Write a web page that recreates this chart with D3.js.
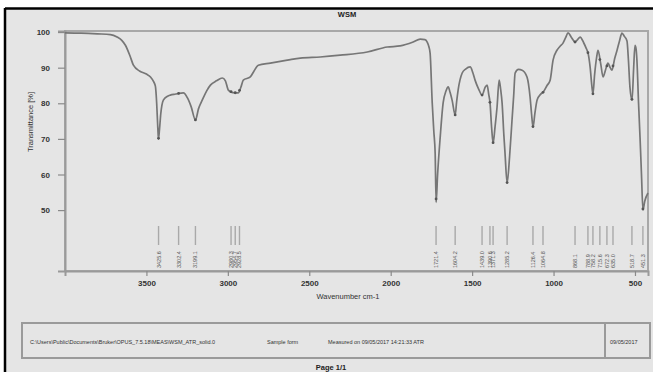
<!DOCTYPE html>
<html>
<head>
<meta charset="utf-8">
<script src="https://cdn.jsdelivr.net/npm/d3@7"></script>
<style>
  body { margin: 0; background: #fff; }
  svg { display: block; font-family: "Liberation Sans", Arial, sans-serif; }
</style>
</head>
<body>
<div id="chart"></div>
<script>
// spectrum
const wavenumbers = [4000, 3900, 3800, 3721, 3680, 3650, 3629, 3600, 3580, 3540, 3500, 3475, 3455, 3445, 3437, 3430, 3426, 3420, 3412, 3396,
  3370, 3353, 3320, 3300, 3273, 3248, 3225, 3199, 3180, 3156, 3130, 3107, 3070, 3034, 3015, 2997, 2970, 2936, 2920, 2905,
  2862, 2840, 2813, 2739, 2635, 2555, 2433, 2310, 2144, 2021, 1942, 1862, 1819, 1790, 1776, 1765, 1758, 1745, 1735, 1727,
  1721, 1712, 1696, 1678, 1660, 1647, 1635, 1623, 1604, 1595, 1586, 1561, 1540, 1512, 1495, 1482, 1460, 1439, 1420, 1408,
  1398, 1390, 1380, 1371, 1360, 1347, 1334, 1325, 1316, 1305, 1298, 1285, 1270, 1255, 1245, 1236, 1215, 1193, 1163, 1144,
  1135, 1126, 1115, 1101, 1080, 1064, 1040, 1021, 1003, 979, 960, 942, 925, 911, 890, 868, 850, 837, 815, 800,
  788, 775, 765, 758, 748, 735, 727, 710, 696, 680, 666, 652, 641, 625, 610, 595, 580, 565, 549, 540,
  531, 518, 508, 500, 494, 488, 478, 469, 460, 451, 440, 420];
const transmittance = [99.8, 99.7, 99.5, 99.3, 98.6, 97.6, 96.3, 93.2, 90.7, 89.0, 88.2, 87.4, 86.0, 84.8, 80.0, 73.0, 70.0, 72.5, 77.0, 80.9,
  82.0, 82.3, 82.6, 82.8, 82.9, 81.5, 79.0, 75.3, 78.5, 81.0, 83.5, 85.1, 86.3, 87.1, 86.3, 83.7, 83.0, 82.9, 84.5, 86.5,
  87.4, 89.0, 90.7, 91.3, 92.1, 92.7, 93.0, 93.5, 94.4, 95.8, 96.1, 97.2, 98.0, 97.9, 97.2, 95.8, 94.1, 80.1, 72.0, 66.0,
  52.2, 60.0, 70.5, 80.1, 83.5, 84.6, 83.0, 80.9, 76.7, 80.5, 83.7, 88.5, 89.6, 90.2, 88.5, 86.5, 84.0, 82.3, 84.5, 85.1,
  82.5, 80.1, 73.0, 68.8, 73.0, 78.9, 86.5, 84.0, 80.1, 71.0, 66.0, 57.6, 65.0, 75.3, 82.0, 88.5, 89.5, 89.3, 87.4, 81.7,
  77.0, 73.3, 77.0, 80.9, 82.5, 83.1, 85.0, 86.5, 92.1, 94.9, 96.0, 96.9, 98.5, 99.8, 98.5, 97.2, 98.0, 98.6, 97.0, 95.5,
  94.1, 90.0, 85.0, 82.6, 88.0, 93.0, 94.9, 91.0, 87.4, 89.5, 91.3, 90.0, 89.3, 92.5, 94.9, 97.5, 99.7, 98.8, 97.5, 92.0,
  84.6, 80.9, 90.0, 96.3, 95.5, 92.1, 80.0, 70.5, 60.0, 50.0, 52.5, 54.8];

const peaks = [3425.6, 3302.4, 3199.1, 2980.3, 2954.7, 2928.5, 1721.4, 1604.2, 1439.0, 1390.6, 1371.3, 1285.2,
  1126.4, 1064.8, 868.1, 788.9, 758.2, 715.6, 672.3, 635.0, 518.7, 451.3];

const xTicks = [3500, 3000, 2500, 2000, 1500, 1000, 500];
const yTicks = [50, 60, 70, 80, 90, 100];

const title = "WSM";
const xTitle = "Wavenumber cm-1";
const yTitle = "Transmittance [%]";
const footer = ["C:\\Users\\Public\\Documents\\Bruker\\OPUS_7.5.18\\MEAS\\WSM_ATR_solid.0", "Sample form",
  "Measured on 09/05/2017 14:21:33 ATR", "09/05/2017"];

const W = 653, H = 372;
const svg = d3.select("#chart").append("svg")
  .attr("width", W)
  .attr("height", H);

// page
svg.append("rect").attr("x", 5).attr("y", 8).attr("width", W).attr("height", H).attr("fill", "#e5e5e5");
svg.append("line").attr("x1", 5).attr("x2", W).attr("y1", 8.5).attr("y2", 8.5).attr("stroke", "#000").attr("stroke-width", 2.5);
svg.append("line").attr("x1", 5).attr("x2", 5).attr("y1", 8).attr("y2", H).attr("stroke", "#000").attr("stroke-width", 2.5);

const x = d3.scaleLinear().domain([4000, 420]).range([65, 648]);
const y = d3.scaleLinear().domain([32.9, 100.3]).range([271, 31]);

// frame
svg.append("rect")
  .attr("x", 65).attr("y", 31).attr("width", 583).attr("height", 240)
  .attr("fill", "none").attr("stroke", "#a8a8a8").attr("stroke-width", 2);

const yAxis = svg.append("g")
  .attr("transform", "translate(65,0)")
  .call(d3.axisLeft(y).tickValues(yTicks).tickFormat(d3.format("d")).tickSize(7).tickPadding(8));
const xAxis = svg.append("g")
  .attr("transform", "translate(0,271)")
  .call(d3.axisBottom(x).tickValues(xTicks).tickFormat(d3.format("d")).tickSize(5).tickPadding(4));

[yAxis, xAxis].forEach(g => {
  g.select(".domain").attr("stroke", "#9a9a9a").attr("stroke-width", 2);
  g.selectAll(".tick line").attr("stroke", "#8a8a8a").attr("stroke-width", 1.2);
  g.selectAll(".tick text").attr("fill", "#333").attr("font-size", 8).attr("font-weight", "bold");
});

// titles
svg.append("text").attr("x", 347).attr("y", 17).attr("text-anchor", "middle")
  .attr("font-size", 7.5).attr("font-weight", "bold").attr("fill", "#222").text(title);
svg.append("text").attr("x", 348).attr("y", 299).attr("text-anchor", "middle")
  .attr("font-size", 7.5).attr("fill", "#333").text(xTitle);
svg.append("text").attr("transform", "translate(33,122) rotate(-90)").attr("text-anchor", "middle")
  .attr("font-size", 7.5).attr("fill", "#333").text(yTitle);

// spectrum
const spec = wavenumbers.map((w, i) => [w, transmittance[i]]);
const line = d3.line()
  .x(d => x(d[0]))
  .y(d => y(d[1]))
  .curve(d3.curveMonotoneX);

svg.append("path")
  .datum(spec)
  .attr("fill", "none")
  .attr("stroke", "#767676")
  .attr("stroke-width", 1.7)
  .attr("stroke-linejoin", "round")
  .attr("d", line);

// peak picks
const bis = d3.bisector(d => -d[0]).left;
const tAt = w => {
  const i = Math.max(1, Math.min(spec.length - 1, bis(spec, -w)));
  const a = spec[i - 1], b = spec[i];
  return a[1] + (b[1] - a[1]) * (w - a[0]) / (b[0] - a[0]);
};

svg.append("g").selectAll("circle")
  .data(peaks)
  .join("circle")
  .attr("cx", d => x(d))
  .attr("cy", d => y(tAt(d)))
  .attr("r", 1.4)
  .attr("fill", "#555");

const pk = svg.append("g").selectAll("g")
  .data(peaks)
  .join("g")
  .attr("transform", d => `translate(${x(d)},0)`);
pk.append("line")
  .attr("y1", 226).attr("y2", 245)
  .attr("stroke", "#a9a9a9").attr("stroke-width", 1.4);
pk.append("text")
  .attr("transform", "translate(2,268) rotate(-90)")
  .attr("font-size", 5.5)
  .attr("fill", "#555")
  .text(d => d.toFixed(1));

// footer box
svg.append("rect").attr("x", 22).attr("y", 323).attr("width", 628).attr("height", 35)
  .attr("fill", "none").attr("stroke", "#9a9a9a").attr("stroke-width", 2);
svg.append("line").attr("x1", 605).attr("x2", 605).attr("y1", 323).attr("y2", 358)
  .attr("stroke", "#9a9a9a").attr("stroke-width", 2);

const fx = [30, 267, 328, 610];
svg.append("g").selectAll("text")
  .data(footer)
  .join("text")
  .attr("x", (d, i) => fx[i])
  .attr("y", 344)
  .attr("font-size", 5.5)
  .attr("fill", "#333")
  .text(d => d);

svg.append("text").attr("x", 331).attr("y", 370).attr("text-anchor", "middle")
  .attr("font-size", 7.5).attr("font-weight", "bold").attr("fill", "#222").text("Page 1/1");
</script>
</body>
</html>
